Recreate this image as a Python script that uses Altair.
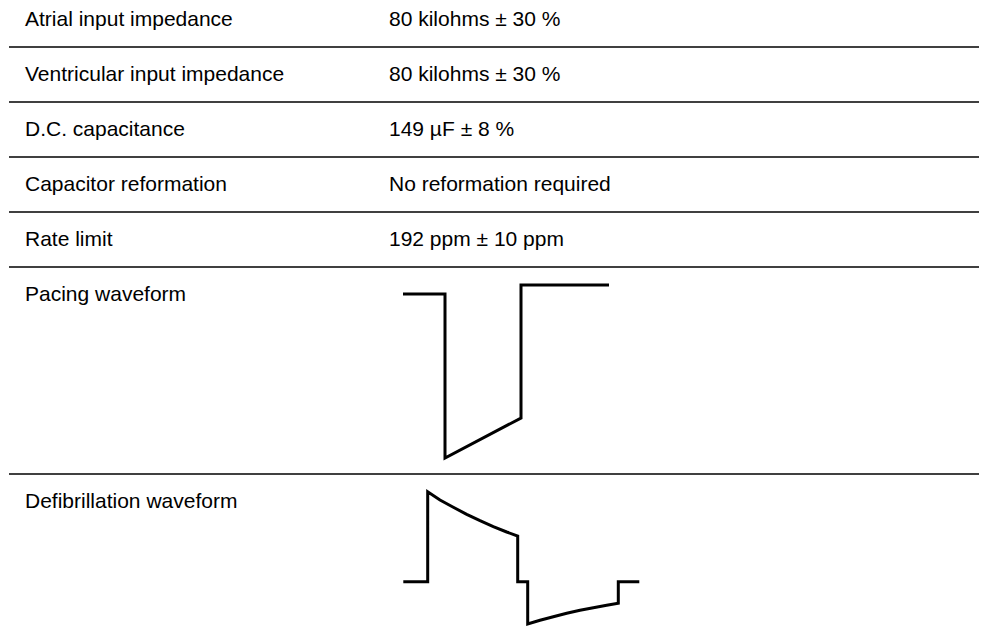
import altair as alt
import pandas as pd

# Table content
labels = [
    "Atrial input impedance",
    "Ventricular input impedance",
    "D.C. capacitance",
    "Capacitor reformation",
    "Rate limit",
    "Pacing waveform",
    "Defibrillation waveform",
]
values = [
    "80 kilohms ± 30 %",
    "80 kilohms ± 30 %",
    "149 µF ± 8 %",
    "No reformation required",
    "192 ppm ± 10 ppm",
    "",
    "",
]
# vertical centre of each row's text (px from page top)
row_text_y = [20, 75, 130, 185, 240, 295, 502]
# separator rules between rows
separator_y = [47, 102, 157, 212, 267, 474]

# Pacing waveform
pacing_x = [403, 445, 445, 521, 521, 609]
pacing_y = [294, 294, 458, 418, 285, 285]

# Defibrillation waveform (biphasic)
defib_x = [403.3, 427.7, 427.7, 440.0, 453.3, 466.7, 480.0, 493.3, 506.7, 517.7,
           517.7, 527.7, 527.7, 540.0, 553.3, 566.7, 580.0, 593.3, 606.7, 618.3,
           618.3, 639.3]
defib_y = [581.7, 581.7, 491.7, 500.0, 507.3, 514.3, 520.7, 526.7, 532.0, 536.0,
           581.7, 581.7, 624.0, 620.3, 616.7, 613.3, 610.3, 607.7, 605.3, 603.3,
           581.7, 581.7]

LABEL_X = 25
VALUE_X = 389
RULE_X0, RULE_X1 = 9, 979

W, H = 971, 620
xs = alt.Scale(domain=[8, 8 + W])
ys = alt.Scale(domain=[8, 8 + H], reverse=True)

text_df = pd.DataFrame({
    "label": labels, "value": values, "y": row_text_y,
    "lx": [LABEL_X] * len(labels), "vx": [VALUE_X] * len(labels),
})
rule_df = pd.DataFrame({"y": separator_y, "x0": [RULE_X0] * len(separator_y),
                        "x1": [RULE_X1] * len(separator_y)})
wave_df = pd.concat([
    pd.DataFrame({"x": pacing_x, "y": pacing_y, "i": range(len(pacing_x)), "w": "pacing"}),
    pd.DataFrame({"x": defib_x, "y": defib_y, "i": range(len(defib_x)), "w": "defib"}),
])

font = "Liberation Sans"
fs = 21

labels_layer = alt.Chart(text_df).mark_text(
    align="left", baseline="middle", font=font, fontSize=fs, color="#000"
).encode(
    x=alt.X("lx:Q", scale=xs, axis=None),
    y=alt.Y("y:Q", scale=ys, axis=None),
    text="label:N",
)
values_layer = alt.Chart(text_df).mark_text(
    align="left", baseline="middle", font=font, fontSize=fs, color="#000"
).encode(
    x=alt.X("vx:Q", scale=xs, axis=None),
    y=alt.Y("y:Q", scale=ys, axis=None),
    text="value:N",
)
rules_layer = alt.Chart(rule_df).mark_rule(color="#000", strokeWidth=1.3).encode(
    x=alt.X("x0:Q", scale=xs, axis=None),
    x2="x1:Q",
    y=alt.Y("y:Q", scale=ys, axis=None),
)
wave_layer = alt.Chart(wave_df).mark_line(
    color="#000", strokeWidth=3, strokeJoin="miter", strokeCap="butt"
).encode(
    x=alt.X("x:Q", scale=xs, axis=None),
    y=alt.Y("y:Q", scale=ys, axis=None),
    detail="w:N",
    order="i:Q",
)

chart = alt.layer(rules_layer, labels_layer, values_layer, wave_layer).properties(
    width=W, height=H, autosize=alt.AutoSizeParams(type="none"), padding=0
).configure_view(stroke=None)

chart.save("out.html", embed_options={"renderer": "svg", "actions": False})
